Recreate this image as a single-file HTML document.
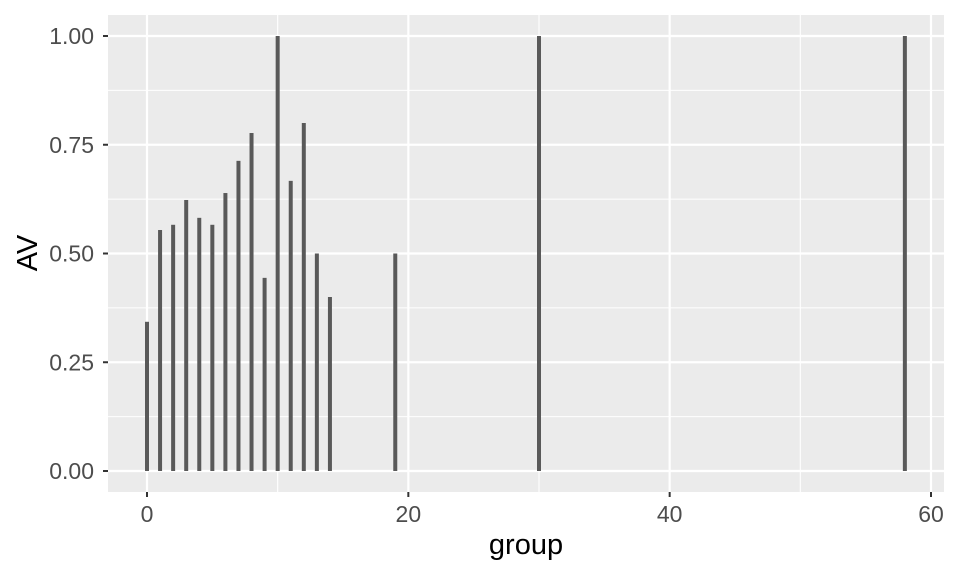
<!DOCTYPE html>
<html><head><meta charset="utf-8"><style>
body{margin:0;background:#fff;}
svg{display:block;font-family:"Liberation Sans",sans-serif;}
</style></head><body>
<svg id="chart" width="960" height="576" viewBox="0 0 960 576">
<rect x="108" y="15" width="836" height="477" fill="#ebebeb"/>
<g id="grid"></g>
<g id="bars"></g>
<g id="axes"></g>
<text x="526" y="554" text-anchor="middle" font-size="29" fill="#000">group</text>
<text transform="translate(37,253) rotate(-90)" text-anchor="middle" font-size="29" fill="#000">AV</text>
</svg>
<script>
const groups = [0,1,2,3,4,5,6,7,8,9,10,11,12,13,14,19,30,58];
const values = [0.343,0.554,0.566,0.623,0.582,0.566,0.639,0.713,0.777,0.444,1.0,0.667,0.8,0.5,0.4,0.5,1.0,1.0];
const xTicks = [0,20,40,60];
const xMinor = [10,30,50];
const yTicks = [0,0.25,0.5,0.75,1.0];
const yTickLabels = ["0.00","0.25","0.50","0.75","1.00"];
const yMinor = [0.125,0.375,0.625,0.875];

const NS="http://www.w3.org/2000/svg";
const xs = v => 147 + v*(931-147)/60;
const ys = v => 471 - v*435;
function mk(tag, attrs, parent){const e=document.createElementNS(NS,tag);for(const k in attrs)e.setAttribute(k,attrs[k]);parent.appendChild(e);return e;}
const grid=document.getElementById('grid'), bars=document.getElementById('bars'), axes=document.getElementById('axes');
yMinor.forEach(v=>{const l=mk('line',{x1:108,x2:944,y1:ys(v),y2:ys(v),stroke:'#fff','stroke-width':1.1},grid);

});
xMinor.forEach(v=>{const l=mk('line',{x1:xs(v),x2:xs(v),y1:15,y2:492,stroke:'#fff','stroke-width':1.1},grid);

});
yTicks.forEach((v,i)=>{const l=mk('line',{x1:108,x2:944,y1:ys(v),y2:ys(v),stroke:'#fff','stroke-width':2.2},grid);


const t=mk('line',{x1:103,x2:108,y1:ys(v),y2:ys(v),stroke:'#333','stroke-width':2},axes);


const tx=mk('text',{x:94,y:ys(v)+8,'text-anchor':'end','font-size':23,fill:'#4d4d4d'},axes);
tx.textContent=yTickLabels[i];

});
xTicks.forEach(v=>{const l=mk('line',{x1:xs(v),x2:xs(v),y1:15,y2:492,stroke:'#fff','stroke-width':2.2},grid);


const t=mk('line',{x1:xs(v),x2:xs(v),y1:492,y2:497,stroke:'#333','stroke-width':2},axes);


const tx=mk('text',{x:xs(v),y:522,'text-anchor':'middle','font-size':23,fill:'#4d4d4d'},axes);
tx.textContent=v;

});
groups.forEach((g,i)=>{const w=4;const r=mk('rect',{x:xs(g)-w/2,y:ys(values[i]),width:w,height:ys(0)-ys(values[i]),fill:'#595959'},bars);

});
</script>
</body></html>
